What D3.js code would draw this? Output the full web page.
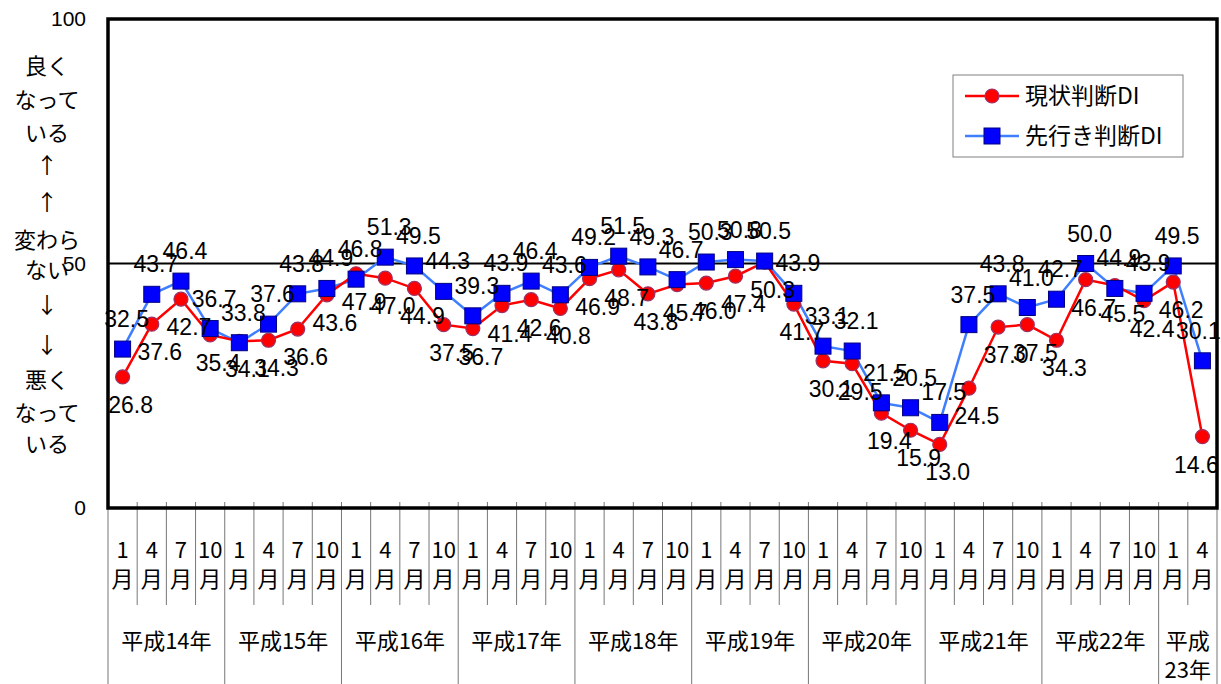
<!DOCTYPE html>
<html>
<head>
<meta charset="utf-8">
<script src="https://cdn.jsdelivr.net/npm/d3@7"></script>
<style>
  body { margin: 0; background: #fff; }
  svg text { font-family: "Liberation Sans", "Noto Sans CJK JP", sans-serif; fill: #000; }
  svg text.jp { font-family: "Noto Sans CJK JP", sans-serif; }
</style>
</head>
<body>
<svg id="chart" width="1221" height="684"></svg>
<script>
// data
var years = ["平成14年", "平成15年", "平成16年", "平成17年", "平成18年",
             "平成19年", "平成20年", "平成21年", "平成22年", "平成23年"];
var months = ["1", "4", "7", "10"];

var genjo = [26.8, 37.6, 42.7, 35.4,
             34.1, 34.3, 36.6, 43.6,
             47.9, 47.0, 44.9, 37.5,
             36.7, 41.4, 42.6, 40.8,
             46.9, 48.7, 43.8, 45.7,
             46.0, 47.4, 50.3, 41.7,
             30.1, 29.5, 19.4, 15.9,
             13.0, 24.5, 37.0, 37.5,
             34.3, 46.7, 45.5, 42.4,
             46.2, 14.6];

var sakiyuki = [32.5, 43.7, 46.4, 36.7,
                33.8, 37.6, 43.8, 44.9,
                46.8, 51.3, 49.5, 44.3,
                39.3, 43.9, 46.4, 43.6,
                49.2, 51.5, 49.3, 46.7,
                50.3, 50.8, 50.5, 43.9,
                33.1, 32.1, 21.5, 20.5,
                17.5, 37.5, 43.8, 41.0,
                42.7, 50.0, 44.9, 43.9,
                49.5, 30.1];

var yTicks = [0, 50, 100];
var sideLabels = ["良く", "なって", "いる", "↑", "↑", "変わら", "ない", "↓", "↓", "悪く", "なって", "いる"];
var sideY = [66, 100, 133, 165, 202, 240, 270, 305, 345, 380, 413, 444];

// periods: year index + month label
var periods = [];
years.forEach(function (yr, yi) {
  months.forEach(function (m) {
    if (periods.length < genjo.length) periods.push({ year: yi, month: m });
  });
});

var svg = d3.select("#chart");
var plotLeft = 108, plotRight = 1217, plotTop = 19, plotBottom = 508;

var x = d3.scaleBand().domain(d3.range(periods.length)).range([plotLeft, plotRight]);
var y = d3.scaleLinear().domain([0, 100]).range([plotBottom, plotTop]);
var bw = x.bandwidth();

// vertical separators below the plot
var edges = d3.range(periods.length + 1);
svg.append("g").selectAll("line")
  .data(edges)
  .enter().append("line")
  .attr("x1", function (k) { return plotLeft + k * bw; })
  .attr("x2", function (k) { return plotLeft + k * bw; })
  .attr("y1", plotBottom - 6)
  .attr("y2", function (k) { return (k % 4 === 0 || k === periods.length) ? 684 : 605; })
  .attr("stroke", "#777")
  .attr("stroke-width", 1);

// y axis
var yAxis = d3.axisLeft(y).tickValues(yTicks).tickSize(0).tickPadding(22);
svg.append("g")
  .attr("transform", "translate(" + plotLeft + ",0)")
  .call(yAxis)
  .call(function (g) { g.select(".domain").remove(); })
  .selectAll("text")
  .style("font-size", "21px")
  .style("font-family", "Liberation Sans, sans-serif");

// side annotation
svg.append("g").selectAll("text")
  .data(sideLabels)
  .enter().append("text")
  .attr("class", "jp")
  .attr("x", 47)
  .attr("y", function (d, i) { return sideY[i]; })
  .attr("dy", "0.35em")
  .attr("text-anchor", "middle")
  .style("font-size", "22px")
  .text(function (d) { return d; });

// month labels
var xAxis = d3.axisBottom(x).tickSize(0).tickFormat("");
var xg = svg.append("g")
  .attr("transform", "translate(0," + plotBottom + ")")
  .call(xAxis);
xg.select(".domain").remove();
xg.selectAll(".tick").each(function (i) {
  var t = d3.select(this).append("text")
    .attr("class", "jp")
    .attr("text-anchor", "middle")
    .style("font-size", "22px");
  t.append("tspan").attr("x", 0).attr("y", 50).text(periods[i].month);
  t.append("tspan").attr("x", 0).attr("y", 79).text("月");
});

// year labels
svg.append("g").selectAll("text")
  .data(years)
  .enter().append("text")
  .attr("class", "jp")
  .attr("text-anchor", "middle")
  .style("font-size", "22px")
  .each(function (d, yi) {
    var idx = periods.map(function (p, i) { return p.year === yi ? i : -1; }).filter(function (i) { return i >= 0; });
    var cx = (x(idx[0]) + x(idx[idx.length - 1]) + bw) / 2;
    var t = d3.select(this);
    if (idx.length < 4) {
      t.append("tspan").attr("x", cx).attr("y", 649).text(d.slice(0, 2));
      t.append("tspan").attr("x", cx).attr("y", 678).text(d.slice(2));
    } else {
      t.append("tspan").attr("x", cx).attr("y", 649).text(d);
    }
  });

// 50 line
svg.append("line")
  .attr("x1", plotLeft).attr("x2", plotRight)
  .attr("y1", y(50)).attr("y2", y(50))
  .attr("stroke", "#000").attr("stroke-width", 2);

// plot frame
svg.append("rect")
  .attr("x", plotLeft).attr("y", plotTop)
  .attr("width", plotRight - plotLeft).attr("height", plotBottom - plotTop)
  .attr("fill", "none").attr("stroke", "#000").attr("stroke-width", 3.5);

var cx = function (d, i) { return x(i) + bw / 2; };
var line = d3.line().x(function (d, i) { return x(i) + bw / 2; }).y(function (d) { return y(d); });

// outlook series
svg.append("path").datum(sakiyuki)
  .attr("d", line).attr("fill", "none")
  .attr("stroke", "#3f7fff").attr("stroke-width", 2.5);

// current series
svg.append("path").datum(genjo)
  .attr("d", line).attr("fill", "none")
  .attr("stroke", "#ff0000").attr("stroke-width", 2.5);

svg.append("g").selectAll("circle")
  .data(genjo)
  .enter().append("circle")
  .attr("cx", cx).attr("cy", function (d) { return y(d); })
  .attr("r", 7)
  .attr("fill", "#ff0000").attr("stroke", "#993366").attr("stroke-width", 1.2);

svg.append("g").selectAll("rect")
  .data(sakiyuki)
  .enter().append("rect")
  .attr("x", function (d, i) { return cx(d, i) - 8; })
  .attr("y", function (d) { return y(d) - 8; })
  .attr("width", 16).attr("height", 16)
  .attr("fill", "#0000ff").attr("stroke", "#000080").attr("stroke-width", 1);

// value labels (last ones kept inside the frame)
var lastIdx = periods.length - 1;
svg.append("g").selectAll("text")
  .data(sakiyuki)
  .enter().append("text")
  .attr("x", function (d, i) { return i === lastIdx ? cx(d, i) - 4 : cx(d, i) + 4; })
  .attr("y", function (d) { return y(d) - 22; })
  .attr("text-anchor", "middle")
  .style("font-size", "23px")
  .text(function (d) { return d.toFixed(1); });

svg.append("g").selectAll("text")
  .data(genjo)
  .enter().append("text")
  .attr("x", function (d, i) { return i === lastIdx ? cx(d, i) - 6 : cx(d, i) + 8; })
  .attr("y", function (d) { return y(d) + 36; })
  .attr("text-anchor", "middle")
  .style("font-size", "23px")
  .text(function (d) { return d.toFixed(1); });

// legend
var legend = svg.append("g").attr("transform", "translate(953,75)");
legend.append("rect")
  .attr("width", 230).attr("height", 82)
  .attr("fill", "#fff").attr("stroke", "#808080").attr("stroke-width", 1);

var items = [
  { name: "現状判断DI", color: "#ff0000", shape: "circle" },
  { name: "先行き判断DI", color: "#3f7fff", shape: "square" }
];
items.forEach(function (it, i) {
  var gy = 21 + i * 40;
  var g = legend.append("g").attr("transform", "translate(0," + gy + ")");
  g.append("line").attr("x1", 12).attr("x2", 66).attr("y1", 0).attr("y2", 0)
    .attr("stroke", it.color).attr("stroke-width", 2.5);
  if (it.shape === "circle") {
    g.append("circle").attr("cx", 39).attr("cy", 0).attr("r", 7)
      .attr("fill", "#ff0000").attr("stroke", "#993366").attr("stroke-width", 1.2);
  } else {
    g.append("rect").attr("x", 31).attr("y", -8).attr("width", 16).attr("height", 16)
      .attr("fill", "#0000ff").attr("stroke", "#000080");
  }
  g.append("text").attr("class", "jp").attr("x", 72).attr("y", 0).attr("dy", "0.35em")
    .style("font-size", "23px")
    .text(it.name);
});
</script>
</body>
</html>
